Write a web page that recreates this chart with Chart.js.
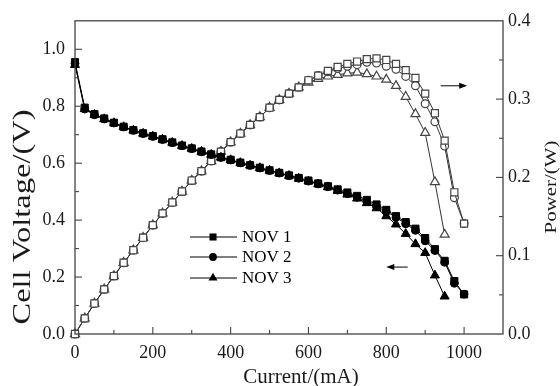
<!DOCTYPE html>
<html><head><meta charset="utf-8">
<script src="https://cdn.jsdelivr.net/npm/chart.js@4.4.0/dist/chart.umd.min.js"></script>
<style>html,body{margin:0;padding:0;background:#fff}</style>
</head><body>
<canvas id="c" width="560" height="386"></canvas>
<script>
// ---- data ----
const current = [0,25,50,75,100,125,150,175,200,225,250,275,300,325,350,375,400,425,450,475,500,525,550,575,600,625,650,675,700,725,750,775,800,825,850,875,900,925,950,975,1000];
const voltageNOV1 = [0.955,0.795,0.772,0.757,0.742,0.728,0.716,0.705,0.695,0.684,0.673,0.662,0.652,0.641,0.631,0.621,0.612,0.602,0.593,0.584,0.575,0.566,0.557,0.548,0.539,0.529,0.519,0.508,0.497,0.485,0.471,0.455,0.436,0.414,0.393,0.370,0.337,0.298,0.257,0.186,0.139];
const voltageNOV2 = [0.950,0.790,0.770,0.755,0.741,0.727,0.715,0.704,0.694,0.683,0.672,0.661,0.651,0.640,0.630,0.620,0.611,0.601,0.592,0.583,0.574,0.565,0.556,0.547,0.537,0.527,0.517,0.505,0.493,0.480,0.465,0.448,0.430,0.410,0.387,0.364,0.327,0.293,0.252,0.178,0.140];
const voltageNOV3 = [0.945,0.790,0.770,0.755,0.741,0.727,0.715,0.704,0.694,0.683,0.672,0.661,0.651,0.640,0.630,0.620,0.611,0.601,0.592,0.583,0.574,0.565,0.556,0.546,0.536,0.526,0.516,0.503,0.490,0.476,0.460,0.442,0.414,0.385,0.352,0.316,0.285,0.206,0.132];
const powerNOV1 = [0,0.020,0.039,0.057,0.074,0.091,0.107,0.123,0.139,0.154,0.168,0.182,0.196,0.208,0.221,0.233,0.245,0.256,0.267,0.277,0.289,0.299,0.307,0.315,0.324,0.330,0.336,0.341,0.345,0.348,0.351,0.352,0.350,0.345,0.337,0.327,0.307,0.282,0.247,0.181,0.141];
const powerNOV2 = [0,0.020,0.039,0.057,0.074,0.091,0.107,0.123,0.139,0.154,0.168,0.182,0.196,0.208,0.221,0.233,0.245,0.256,0.267,0.277,0.289,0.299,0.307,0.315,0.324,0.330,0.335,0.339,0.342,0.344,0.347,0.346,0.342,0.338,0.329,0.317,0.294,0.271,0.240,0.174,0.141];
const powerNOV3 = [0,0.020,0.039,0.057,0.074,0.091,0.107,0.123,0.139,0.154,0.168,0.182,0.196,0.208,0.221,0.233,0.245,0.256,0.267,0.277,0.289,0.299,0.307,0.315,0.321,0.326,0.329,0.331,0.333,0.334,0.332,0.329,0.325,0.317,0.303,0.281,0.257,0.194,0.127];
const seriesNames = ["NOV 1","NOV 2","NOV 3"];
const xTicks = [0,200,400,600,800,1000];
const voltageTicks = [0.0,0.2,0.4,0.6,0.8,1.0];
const powerTicks = [0.0,0.1,0.2,0.3,0.4];
const xTitle = "Current/(mA)";
const leftTitle = "Cell Voltage/(V)";
const rightTitle = "Power/(W)";

const SERIF = "'Liberation Serif','Times New Roman',serif";
const pts = (ys) => ys.map((y,i) => ({x: current[i], y}));
const styles = ['rect','circle','triangle'];
const radii = {rect:5, circle:3.9, triangle:5.2};

const datasets = [];
[voltageNOV1, voltageNOV2, voltageNOV3].forEach((v,i) => datasets.push({
  label: seriesNames[i], data: pts(v), yAxisID: 'y',
  borderColor: '#000', borderWidth: 1, pointStyle: styles[i], pointRadius: radii[styles[i]],
  pointBackgroundColor: '#000', pointBorderColor: '#000', pointBorderWidth: 1, clip: false, tension: 0
}));
[powerNOV1, powerNOV2, powerNOV3].forEach((p,i) => datasets.push({
  label: seriesNames[i] + ' P', data: pts(p), yAxisID: 'y2',
  borderColor: '#333', borderWidth: 1, pointStyle: styles[i], pointRadius: radii[styles[i]],
  pointBackgroundColor: '#fff', pointBorderColor: '#444', pointBorderWidth: 1.2, clip: false, tension: 0
}));

function marker(ctx, style, x, y, r) {
  ctx.beginPath();
  if (style === 'rect') { const h = r*Math.SQRT1_2; ctx.rect(x-h, y-h, 2*h, 2*h); }
  else if (style === 'circle') { ctx.arc(x, y, r, 0, Math.PI*2); }
  else { ctx.moveTo(x, y - r); ctx.lineTo(x + r*0.866, y + r*0.5); ctx.lineTo(x - r*0.866, y + r*0.5); ctx.closePath(); }
  ctx.fill();
}
function arrow(ctx, x1, y, x2) {
  const dir = Math.sign(x2 - x1);
  ctx.beginPath(); ctx.moveTo(x1, y); ctx.lineTo(x2 - dir*6, y); ctx.stroke();
  ctx.beginPath(); ctx.moveTo(x2, y); ctx.lineTo(x2 - dir*8, y - 3); ctx.lineTo(x2 - dir*8, y + 3); ctx.closePath(); ctx.fill();
}
function stretchedText(ctx, text, cx, cy, fontPx, length, rot) {
  ctx.save();
  ctx.font = fontPx + 'px ' + SERIF;
  const w = ctx.measureText(text).width;
  ctx.translate(cx, cy); ctx.rotate(rot); ctx.scale(length / w, 1);
  ctx.textAlign = 'center'; ctx.textBaseline = 'middle';
  ctx.fillText(text, 0, 0);
  ctx.restore();
}

const decor = {
  id: 'decor',
  afterDraw(chart) {
    const ctx = chart.ctx;
    const {left, right, top, bottom} = chart.chartArea;
    const xs = chart.scales.x, yl = chart.scales.y, yr = chart.scales.y2;
    ctx.save();
    ctx.strokeStyle = '#444'; ctx.lineWidth = 1.3;
    ctx.strokeRect(left, top, right - left, bottom - top);
    ctx.lineWidth = 1.1;
    const seg = (a,b,c,d) => { ctx.beginPath(); ctx.moveTo(a,b); ctx.lineTo(c,d); ctx.stroke(); };
    for (let k = 1; k < 11; k++) { const px = xs.getPixelForValue(k*100); seg(px, bottom, px, bottom - (k%2===0 ? 7 : 4)); }
    for (let k = 1; k < 11; k++) { const py = yl.getPixelForValue(k*0.1); seg(left, py, left + (k%2===0 ? 7 : 4), py); }
    for (let k = 1; k < 8; k++) { const py = yr.getPixelForValue(k*0.05); seg(right, py, right - (k%2===0 ? 7 : 4), py); }
    // titles
    ctx.fillStyle = '#1a1a1a';
    ctx.font = '21px ' + SERIF; ctx.textAlign = 'center'; ctx.textBaseline = 'middle';
    ctx.fillText(xTitle, 301, 377);
    stretchedText(ctx, leftTitle, 23, 217, 25, 215, -Math.PI/2);
    stretchedText(ctx, rightTitle, 552, 187, 17, 93, -Math.PI/2);
    // legend (voltage series)
    const rowsY = [237, 257, 278];
    ctx.strokeStyle = '#000'; ctx.fillStyle = '#000'; ctx.lineWidth = 1;
    rowsY.forEach((y, i) => {
      seg(190, y, 237, y);
      marker(ctx, styles[i], 213, y, radii[styles[i]]);
      ctx.font = '17px ' + SERIF; ctx.textAlign = 'left'; ctx.textBaseline = 'middle';
      ctx.fillText(seriesNames[i], 242, y + 1);
    });
    // arrows pointing to the axes
    arrow(ctx, xs.getPixelForValue(855), yl.getPixelForValue(0.235), xs.getPixelForValue(800));
    arrow(ctx, xs.getPixelForValue(940), yr.getPixelForValue(0.317), xs.getPixelForValue(1008));
    ctx.restore();
  }
};

const tickFont = {family: SERIF, size: 18};
new Chart(document.getElementById('c'), {
  type: 'line',
  data: {datasets},
  options: {
    responsive: false, animation: false, devicePixelRatio: 1,
    layout: {padding: {top: 16, left: 0, right: 0, bottom: 0}},
    plugins: {legend: {display: false}, tooltip: {enabled: false}},
    scales: {
      x: {type: 'linear', min: 0, max: 1100,
        grid: {display: false, drawTicks: false}, border: {display: false},
        afterBuildTicks: s => { s.ticks = xTicks.map(v => ({value: v})); },
        afterFit: s => { s.height = 52; },
        ticks: {font: tickFont, color: '#1a1a1a', padding: 8, maxRotation: 0, callback: v => String(v)}},
      y: {type: 'linear', position: 'left', min: 0, max: 1.1,
        grid: {display: false, drawTicks: false}, border: {display: false},
        afterBuildTicks: s => { s.ticks = voltageTicks.map(v => ({value: v})); },
        afterFit: s => { s.width = 75; },
        ticks: {font: tickFont, color: '#1a1a1a', padding: 10, callback: v => v.toFixed(1)}},
      y2: {type: 'linear', position: 'right', min: 0, max: 0.4,
        grid: {display: false, drawTicks: false}, border: {display: false},
        afterBuildTicks: s => { s.ticks = powerTicks.map(v => ({value: v})); },
        afterFit: s => { s.width = 57; },
        ticks: {font: tickFont, color: '#1a1a1a', padding: 5, callback: v => v.toFixed(1)}}
    }
  },
  plugins: [decor]
});
</script>
</body></html>
